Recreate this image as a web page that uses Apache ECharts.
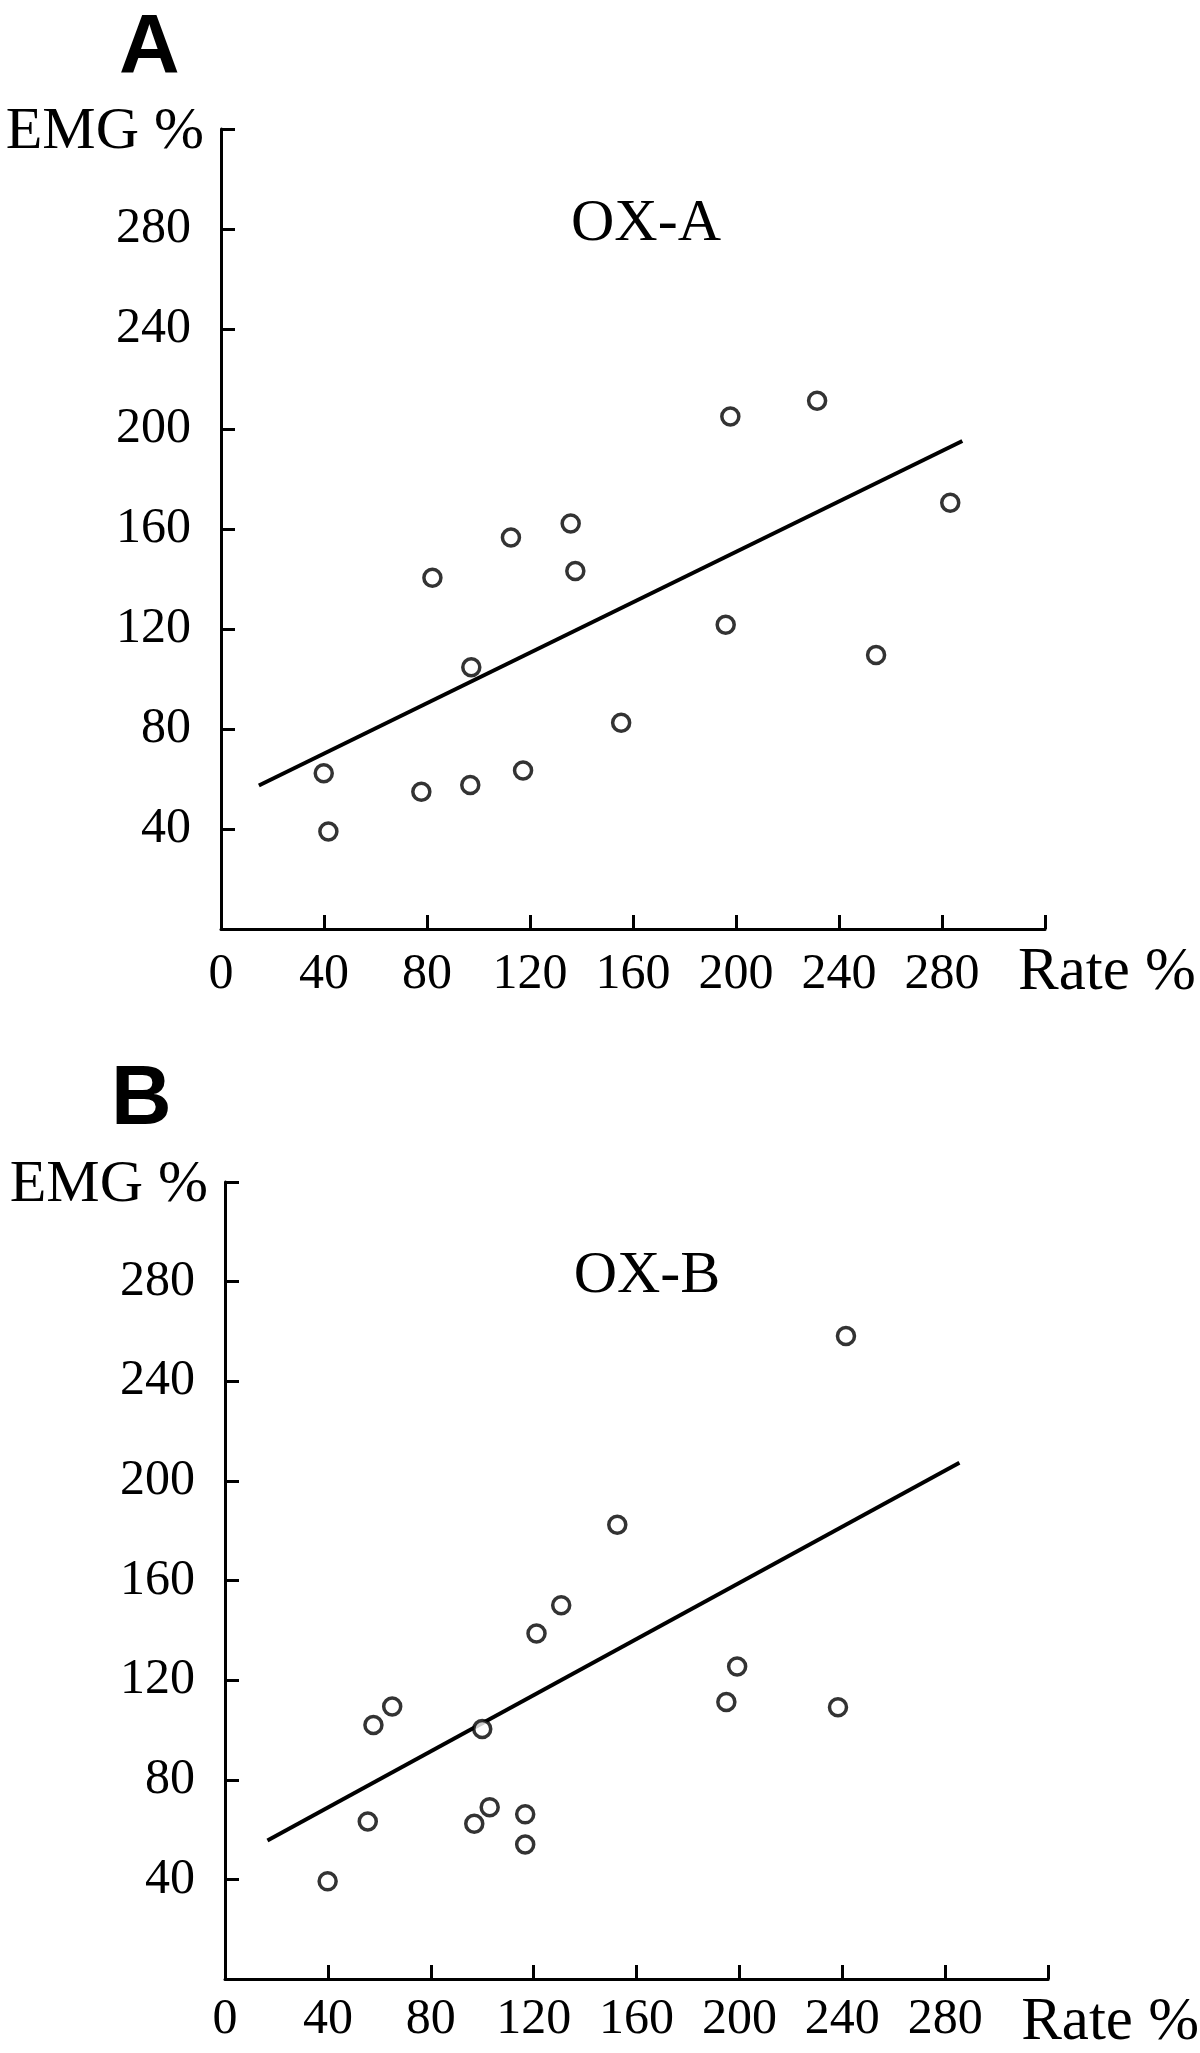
<!DOCTYPE html>
<html>
<head>
<meta charset="utf-8">
<script src="https://cdn.jsdelivr.net/npm/echarts@6/dist/echarts.min.js"></script>
<style>
html,body{margin:0;padding:0;background:#fff;}
#chart{width:1200px;height:2053px;}
</style>
</head>
<body>
<div id="chart"></div>
<script>
// ---- data ----
const axisTicks = [0, 40, 80, 120, 160, 200, 240, 280, 320];
const xTickLabels = ['0', '40', '80', '120', '160', '200', '240', '280'];
const yTickLabels = ['40', '80', '120', '160', '200', '240', '280'];

const rateA = [39.9, 41.7, 77.8, 82.1, 96.8, 97.2, 112.6, 117.3, 135.8, 137.6, 155.4, 196.0, 197.8, 231.5, 254.4, 283.2];
const emgA  = [62.3, 39.0, 54.9, 140.5, 57.6, 104.7, 156.6, 63.4, 162.2, 143.2, 82.5, 121.7, 205.0, 211.3, 109.6, 170.5];
const fitRateA = [14.7, 287.9];
const fitEmgA  = [57.4, 195.2];

const rateB = [39.9, 55.5, 57.7, 65.0, 96.9, 100.0, 102.9, 116.7, 116.7, 121.1, 130.7, 152.5, 194.9, 199.1, 238.3, 241.4];
const emgB  = [39.2, 63.2, 102.0, 109.4, 62.3, 100.4, 69.0, 66.1, 54.0, 138.7, 150.1, 182.4, 111.2, 125.5, 109.1, 258.2];
const fitRateB = [16.5, 285.5];
const fitEmgB  = [55.6, 207.3];

const panelLetters = ['A', 'B'];
const panelTitles = ['OX-A', 'OX-B'];
const xName = 'Rate %';
const yName = 'EMG %';

// ---- chart ----
const serif = '"Liberation Serif", "Times New Roman", serif';
const sans = '"Liberation Sans", Arial, Helvetica, sans-serif';

const zip = (a, b) => a.map((v, i) => [v, b[i]]);

function xAxisCfg(gridIndex, labelMargin) {
  return {
    type: 'value', gridIndex: gridIndex,
    min: axisTicks[0], max: axisTicks[axisTicks.length - 1],
    interval: axisTicks[1] - axisTicks[0],
    name: xName, nameLocation: 'end', nameGap: -27,
    nameTextStyle: { fontFamily: serif, fontSize: 61, color: '#000', align: 'left', verticalAlign: 'top', lineHeight: 61, padding: [13, 0, 0, 0] },
    axisLine: { show: true, onZero: false, lineStyle: { color: '#000', width: 3 } },
    axisTick: { show: true, inside: true, length: 14, lineStyle: { color: '#000', width: 3 } },
    axisLabel: {
      show: true, margin: labelMargin, fontFamily: serif, fontSize: 50, color: '#000', lineHeight: 50,
      formatter: function (v) { const s = String(v); return xTickLabels.indexOf(s) >= 0 ? s : ''; }
    },
    splitLine: { show: false }
  };
}

function yAxisCfg(gridIndex) {
  return {
    type: 'value', gridIndex: gridIndex,
    min: axisTicks[0], max: axisTicks[axisTicks.length - 1],
    interval: axisTicks[1] - axisTicks[0],
    name: yName, nameLocation: 'end', nameGap: -3,
    nameTextStyle: { fontFamily: serif, fontSize: 60, color: '#000', align: 'right', verticalAlign: 'middle', padding: [0, 17, 0, 0] },
    axisLine: { show: true, onZero: false, lineStyle: { color: '#000', width: 3 } },
    axisTick: { show: true, inside: true, length: 14, lineStyle: { color: '#000', width: 3 } },
    axisLabel: {
      show: true, margin: 30, fontFamily: serif, fontSize: 50, color: '#000',
      formatter: function (v) { const s = String(v); return yTickLabels.indexOf(s) >= 0 ? s : ''; }
    },
    splitLine: { show: false }
  };
}

const scatterStyle = { color: '#fff', borderColor: '#000', borderWidth: 3.5 };

const option = {
  backgroundColor: '#fff',
  animation: false,
  grid: [
    { left: 221, right: 155, top: 129, height: 800 },
    { left: 225, right: 150, top: 1182, height: 801 }
  ],
  xAxis: [xAxisCfg(0, 21), xAxisCfg(1, 16)],
  yAxis: [yAxisCfg(0), yAxisCfg(1)],
  series: [
    { type: 'line', xAxisIndex: 0, yAxisIndex: 0, data: zip(fitRateA, fitEmgA), symbol: 'none',
      lineStyle: { color: '#000', width: 4 }, z: 2 },
    { type: 'scatter', xAxisIndex: 0, yAxisIndex: 0, data: zip(rateA, emgA), symbol: 'circle', symbolSize: 17,
      itemStyle: scatterStyle, z: 3 },
    { type: 'line', xAxisIndex: 1, yAxisIndex: 1, data: zip(fitRateB, fitEmgB), symbol: 'none',
      lineStyle: { color: '#000', width: 4 }, z: 2 },
    { type: 'scatter', xAxisIndex: 1, yAxisIndex: 1, data: zip(rateB, emgB), symbol: 'circle', symbolSize: 17,
      itemStyle: scatterStyle, z: 3 }
  ],
  graphic: [
    { type: 'text', left: 119, top: 8, style: { text: panelLetters[0], font: 'bold 84px ' + sans, fill: '#000' } },
    { type: 'text', left: 111, top: 1059, style: { text: panelLetters[1], font: 'bold 84px ' + sans, fill: '#000' } },
    { type: 'text', x: 646, y: 224, style: { text: panelTitles[0], font: '60px ' + serif, fill: '#000', textAlign: 'center', textVerticalAlign: 'middle' } },
    { type: 'text', x: 647, y: 1276, style: { text: panelTitles[1], font: '60px ' + serif, fill: '#000', textAlign: 'center', textVerticalAlign: 'middle' } }
  ]
};

const chart = echarts.init(document.getElementById('chart'), null, { renderer: 'canvas' });
chart.setOption(option);
</script>
</body>
</html>
